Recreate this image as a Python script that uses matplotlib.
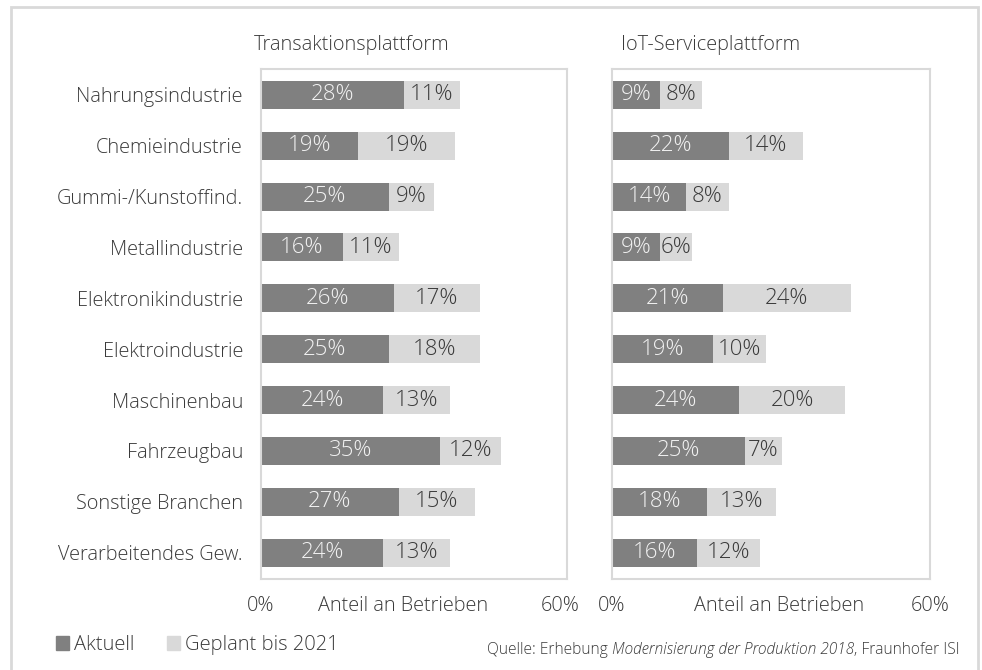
import matplotlib.pyplot as plt
import matplotlib.patches as mpatches
import matplotlib.transforms as mtransforms
import numpy as np

plt.rcParams['font.family'] = ['Open Sans', 'DejaVu Sans']
plt.rcParams['font.weight'] = 'light'

# Daten
branchen = ['Nahrungsindustrie', 'Chemieindustrie', 'Gummi-/Kunstoffind.', 'Metallindustrie',
            'Elektronikindustrie', 'Elektroindustrie', 'Maschinenbau', 'Fahrzeugbau',
            'Sonstige Branchen', 'Verarbeitendes Gew.']
trans_aktuell = [28, 19, 25, 16, 26, 25, 24, 35, 27, 24]
trans_geplant = [11, 19, 9, 11, 17, 18, 13, 12, 15, 13]
iot_aktuell = [9, 22, 14, 9, 21, 19, 24, 25, 18, 16]
iot_geplant = [8, 14, 8, 6, 24, 10, 20, 7, 13, 12]
titel = ['Transaktionsplattform', 'IoT-Serviceplattform']
legende = ['Aktuell', 'Geplant bis 2021']

dunkel = '#808080'
hell = '#d9d9d9'
textfarbe = '#3a3a3a'
rahmen = '#d9d9d9'

W, H = 982, 670
fig = plt.figure(figsize=(W / 100, H / 100), dpi=100)

# Aussenrahmen (unten abgeschnitten)
fig.patches.append(mpatches.Rectangle((11 / W, -0.02), (978 - 11) / W, 1 - 7 / H + 0.02,
                                      transform=fig.transFigure, fill=False,
                                      edgecolor=rahmen, lw=2))

ax1 = fig.add_axes([261 / W, 1 - 579 / H, 306 / W, 510 / H])
ax2 = fig.add_axes([612 / W, 1 - 579 / H, 318 / W, 510 / H])

y = np.arange(len(branchen))
for ax, akt, gep in [(ax1, trans_aktuell, trans_geplant), (ax2, iot_aktuell, iot_geplant)]:
    ax.barh(y, akt, height=0.55, color=dunkel)
    ax.barh(y, gep, left=akt, height=0.55, color=hell)
    for i in range(len(y)):
        ax.text(akt[i] / 2, y[i], f'{akt[i]}%', ha='center', va='center',
                color='#f2f2f2', fontsize=16)
        ax.text(akt[i] + gep[i] / 2, y[i], f'{gep[i]}%', ha='center', va='center',
                color=textfarbe, fontsize=16)
    ax.set_xlim(0, 60)
    ax.set_ylim(9.52, -0.51)
    ax.set_xticks([0, 60])
    ax.set_xticklabels(['0%', '60%'])
    ax.tick_params(axis='x', length=0, pad=12, labelsize=14.3, labelcolor=textfarbe)
    for s in ax.spines.values():
        s.set_color(rahmen)
        s.set_linewidth(1.5)

ax1.set_yticks(y)
ax1.set_yticklabels(branchen)
ax1.tick_params(axis='y', length=0, pad=13, labelsize=14.3, labelcolor=textfarbe)
ax2.set_yticks([])

# 60% links etwas nach links schieben (wie im Original)
lbl = ax1.get_xticklabels()[1]
lbl.set_transform(lbl.get_transform() + mtransforms.ScaledTranslation(-7 / 100, 0, fig.dpi_scale_trans))

ax1.text(0.463, -27 / 510, 'Anteil an Betrieben', transform=ax1.transAxes, ha='center', va='center',
         fontsize=14.3, color=textfarbe)
ax2.text(0.524, -27 / 510, 'Anteil an Betrieben', transform=ax2.transAxes, ha='center', va='center',
         fontsize=14.3, color=textfarbe)

fig.text(254 / W, 1 - 45 / H, titel[0], ha='left', va='center', fontsize=14.3, color=textfarbe)
fig.text(621 / W, 1 - 45 / H, titel[1], ha='left', va='center', fontsize=14.3, color=textfarbe)

# Legende
handles = [mpatches.Patch(color=dunkel), mpatches.Patch(color=hell)]
fig.legend(handles, legende, ncol=2, loc='center left', bbox_to_anchor=(38 / W, 1 - 645 / H),
           frameon=False, handlelength=0.65, handleheight=0.65, handletextpad=0.25,
           columnspacing=1.6, fontsize=14.5, labelcolor=textfarbe)

# Quelle
t3 = fig.text(960 / W, 1 - 650 / H, ', Fraunhofer ISI', ha='right', va='center', fontsize=11.2, color=textfarbe)
t2 = fig.text(0, 0, 'Modernisierung der Produktion 2018', ha='right', va='bottom', fontsize=11.2,
              color=textfarbe, style='italic')
t1 = fig.text(0, 0, 'Quelle: Erhebung ', ha='right', va='bottom', fontsize=11.2, color=textfarbe)
fig.canvas.draw()
r = fig.canvas.get_renderer()
bb3 = t3.get_window_extent(r)
t2.set_position((bb3.x0 / W, bb3.y0 / H))
bb2 = t2.get_window_extent(r)
t1.set_position((bb2.x0 / W, bb3.y0 / H))

fig.savefig('out.png', dpi=100)
